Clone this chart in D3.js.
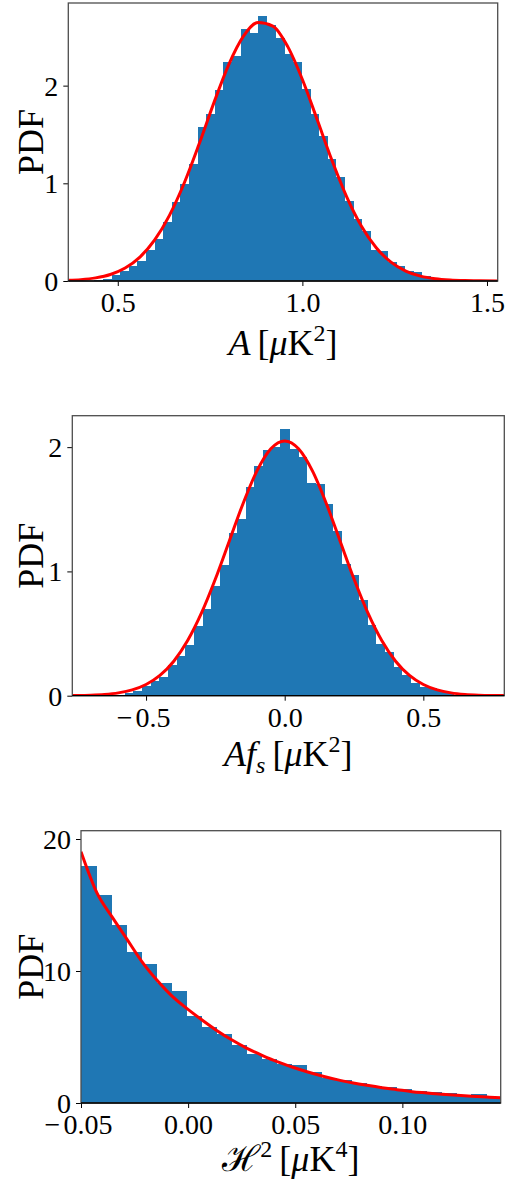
<!DOCTYPE html>
<html><head><meta charset="utf-8">
<script src="https://cdn.jsdelivr.net/npm/d3@7"></script>
<style>
html,body{margin:0;padding:0;background:#fff;}
svg{display:block;}
text{font-family:"Liberation Serif","DejaVu Serif",serif;fill:#000;}
</style></head>
<body>
<svg id="chart" width="506" height="1184"></svg>
<script>
// ---------- Panel 1: A [μK²] ----------
const binStartA = 0.4366, binWidthA = 0.02331;
const histA = [0.01,0.02,0.06,0.10,0.15,0.20,0.32,0.43,0.60,0.81,0.99,1.20,1.58,1.71,1.96,2.24,2.30,2.58,2.54,2.71,2.62,2.49,2.32,2.24,1.97,1.71,1.48,1.25,1.06,0.82,0.63,0.51,0.32,0.31,0.19,0.15,0.105,0.09,0.05,0.02,0.01];
const curveAx = [0.36,0.40,0.44,0.48,0.52,0.56,0.60,0.64,0.68,0.72,0.76,0.80,0.84,0.88,0.92,0.96,1.00,1.04,1.08,1.12,1.16,1.20,1.24,1.28,1.32,1.36,1.40,1.44,1.48,1.53];
const curveAy = [0.006,0.014,0.032,0.067,0.133,0.245,0.420,0.672,1.003,1.399,1.821,2.211,2.504,2.647,2.610,2.402,2.063,1.653,1.236,0.862,0.561,0.341,0.193,0.102,0.050,0.023,0.010,0.004,0.0016,0.0005];
const xTicksA = [0.5,1.0,1.5], xTickLabelsA = ["0.5","1.0","1.5"];
const yTicksA = [0,1,2], yTickLabelsA = ["0","1","2"];

// ---------- Panel 2: Af_s [μK²] ----------
const binStartB = -0.5768, binWidthB = 0.03118;
const histB = [0.02,0.04,0.078,0.118,0.153,0.247,0.322,0.41,0.561,0.697,0.88,1.051,1.311,1.421,1.676,1.848,1.977,2.003,2.146,1.985,1.923,1.711,1.70,1.54,1.325,1.06,0.974,0.77,0.569,0.415,0.349,0.232,0.165,0.10,0.074,0.058,0.035,0.02];
const curveBx = [-0.80,-0.75,-0.70,-0.65,-0.60,-0.55,-0.50,-0.45,-0.40,-0.35,-0.30,-0.25,-0.20,-0.15,-0.10,-0.05,0,0.05,0.10,0.15,0.20,0.25,0.30,0.35,0.40,0.45,0.50,0.55,0.60,0.65,0.70,0.75,0.80];
const curveBy = [0.0007,0.0018,0.0045,0.0104,0.0228,0.0467,0.0901,0.1631,0.2775,0.4434,0.6656,0.9385,1.243,1.547,1.809,1.987,2.05,1.987,1.809,1.547,1.243,0.9385,0.6656,0.4434,0.2775,0.1631,0.0901,0.0467,0.0228,0.0104,0.0045,0.0018,0.0007];
const xTicksB = [-0.5,0.0,0.5], xTickLabelsB = ["\u22120.5","0.0","0.5"];
const yTicksB = [0,1,2], yTickLabelsB = ["0","1","2"];

// ---------- Panel 3: H² [μK⁴] ----------
const binStartC = -0.05, binWidthC = 0.007;
const histC = [17.95,15.76,13.48,11.44,10.53,9.09,8.48,6.59,5.76,5.23,4.39,3.71,3.31,2.93,2.90,2.35,1.92,1.74,1.54,1.31,1.21,1.06,0.88,0.83,0.76,0.63,0.68,0.48];
const curveCx = [-0.05,-0.0425,-0.0355,-0.0285,-0.0215,-0.0145,-0.0075,-0.0005,0.0065,0.0135,0.0205,0.0275,0.0345,0.0415,0.0485,0.0555,0.0625,0.0695,0.0765,0.0835,0.0905,0.0975,0.1045,0.1115,0.1185,0.1255,0.1325,0.1395,0.1459];
const curveCy = [19.04,15.9,14.1,12.4,10.7,9.3,8.1,7.15,6.29,5.48,4.77,4.14,3.61,3.13,2.73,2.37,2.05,1.77,1.54,1.34,1.16,1.01,0.86,0.76,0.66,0.58,0.51,0.45,0.40];
const xTicksC = [-0.05,0.0,0.05,0.10], xTickLabelsC = ["\u22120.05","0.00","0.05","0.10"];
const yTicksC = [0,10,20], yTickLabelsC = ["0","10","20"];

const panels = [
  {frame:{l:68.3,r:497.7,t:3,b:281}, xdom:[0.366,1.529], ydom:[0,2.846],
   binStart:binStartA, binWidth:binWidthA, hist:histA, cx:curveAx, cy:curveAy,
   xt:xTicksA, xtl:xTickLabelsA, yt:yTicksA, ytl:yTickLabelsA, label:"A", lab:74},
  {frame:{l:72.3,r:504.3,t:415.7,b:695.7}, xdom:[-0.766,0.792], ydom:[0,2.253],
   binStart:binStartB, binWidth:binWidthB, hist:histB, cx:curveBx, cy:curveBy,
   xt:xTicksB, xtl:xTickLabelsB, yt:yTicksB, ytl:yTickLabelsB, label:"B", lab:70},
  {frame:{l:81,r:500.7,t:830.7,b:1103}, xdom:[-0.05,0.1459], ydom:[0,20.63],
   binStart:binStartC, binWidth:binWidthC, hist:histC, cx:curveCx, cy:curveCy,
   xt:xTicksC, xtl:xTickLabelsC, yt:yTicksC, ytl:yTickLabelsC, label:"C", lab:68}
];

const svg = d3.select("#chart");
const TICKFS = 28, LABFS = 36, SUPFS = 24;

panels.forEach((p,i)=>{
  const f = p.frame;
  const x = d3.scaleLinear().domain(p.xdom).range([f.l,f.r]);
  const y = d3.scaleLinear().domain(p.ydom).range([f.b,f.t]);
  const clipId = "clip"+i;
  svg.append("clipPath").attr("id",clipId).append("rect")
    .attr("x",f.l).attr("y",f.t).attr("width",f.r-f.l).attr("height",f.b-f.t);
  const g = svg.append("g").attr("clip-path",`url(#${clipId})`);
  const bins = p.hist.map((v,k)=>({x0:p.binStart+k*p.binWidth, x1:p.binStart+(k+1)*p.binWidth, v}));
  g.selectAll("rect.bar").data(bins).enter().append("rect")
    .attr("x",d=>x(d.x0)).attr("width",d=>Math.max(0,x(d.x1)-x(d.x0))+1)
    .attr("y",d=>y(d.v)).attr("height",d=>y(0)-y(d.v))
    .attr("shape-rendering","crispEdges")
    .attr("fill","#1f77b4");
  const pts = p.cx.map((xv,k)=>[xv,p.cy[k]]);
  g.append("path").datum(pts)
    .attr("d",d3.line().x(d=>x(d[0])).y(d=>y(d[1])).curve(d3.curveMonotoneX))
    .attr("fill","none").attr("stroke","#ff0000").attr("stroke-width",3);

  // axes
  const xa = svg.append("g").attr("transform",`translate(0,${f.b})`)
    .call(d3.axisBottom(x).tickValues(p.xt).tickFormat((d,k)=>p.xtl[k]).tickSize(5).tickPadding(6));
  const ya = svg.append("g").attr("transform",`translate(${f.l},0)`)
    .call(d3.axisLeft(y).tickValues(p.yt).tickFormat((d,k)=>p.ytl[k]).tickSize(5).tickPadding(5));
  [xa,ya].forEach(a=>{
    a.select(".domain").remove();
    a.selectAll(".tick line").attr("stroke","#000").attr("stroke-width",1);
    a.selectAll(".tick text").attr("font-size",TICKFS).attr("font-family","Liberation Serif");
  });
  ya.selectAll(".tick text").attr("dy","0.34em");
  xa.selectAll(".tick text").attr("dy","0.71em").each(function(){
    const s = this.textContent;
    if(s[0]==="\u2212"){
      const el = d3.select(this).text(null);
      el.append("tspan").attr("dx",-3).text("\u2212");
      el.append("tspan").attr("dx",3).text(s.slice(1));
    }
  });
  // frame
  svg.append("rect").attr("x",f.l).attr("y",f.t).attr("width",f.r-f.l).attr("height",f.b-f.t)
    .attr("fill","none").attr("stroke","#4d4d4d").attr("stroke-width",1.3);
  svg.append("line").attr("x1",f.l).attr("x2",f.r).attr("y1",f.b).attr("y2",f.b)
    .attr("stroke","#000").attr("stroke-width",1.3);

  // y label
  svg.append("text").attr("transform",`translate(${30},${(f.t+f.b)/2}) rotate(-90)`)
    .attr("text-anchor","middle").attr("dy","0.35em").attr("font-size",LABFS).text("PDF");

  // x label
  const cxm = (f.l+f.r)/2, ly = f.b+p.lab;
  const t = svg.append("text").attr("x",cxm).attr("y",ly).attr("text-anchor","middle").attr("font-size",LABFS);
  if(p.label==="A"){
    t.append("tspan").attr("font-style","italic").text("A");
    t.append("tspan").attr("dx",7).text("[");
    t.append("tspan").attr("font-style","italic").text("\u03bc");
    t.append("tspan").text("K");
    t.append("tspan").attr("dy",-14).attr("font-size",SUPFS).text("2");
    t.append("tspan").attr("dy",14).text("]");
  } else if(p.label==="B"){
    t.append("tspan").attr("font-style","italic").text("Af");
    t.append("tspan").attr("dy",7).attr("font-size",SUPFS).attr("font-style","italic").text("s");
    t.append("tspan").attr("dy",-7).attr("dx",7).text("[");
    t.append("tspan").attr("font-style","italic").text("\u03bc");
    t.append("tspan").text("K");
    t.append("tspan").attr("dy",-14).attr("font-size",SUPFS).text("2");
    t.append("tspan").attr("dy",14).text("]");
  } else {
    t.append("tspan").text("\u210B");
    t.append("tspan").attr("dy",-14).attr("font-size",SUPFS).text("2");
    t.append("tspan").attr("dy",14).attr("dx",7).text("[");
    t.append("tspan").attr("font-style","italic").text("\u03bc");
    t.append("tspan").text("K");
    t.append("tspan").attr("dy",-14).attr("font-size",SUPFS).text("4");
    t.append("tspan").attr("dy",14).text("]");
  }
});
</script>
</body></html>
